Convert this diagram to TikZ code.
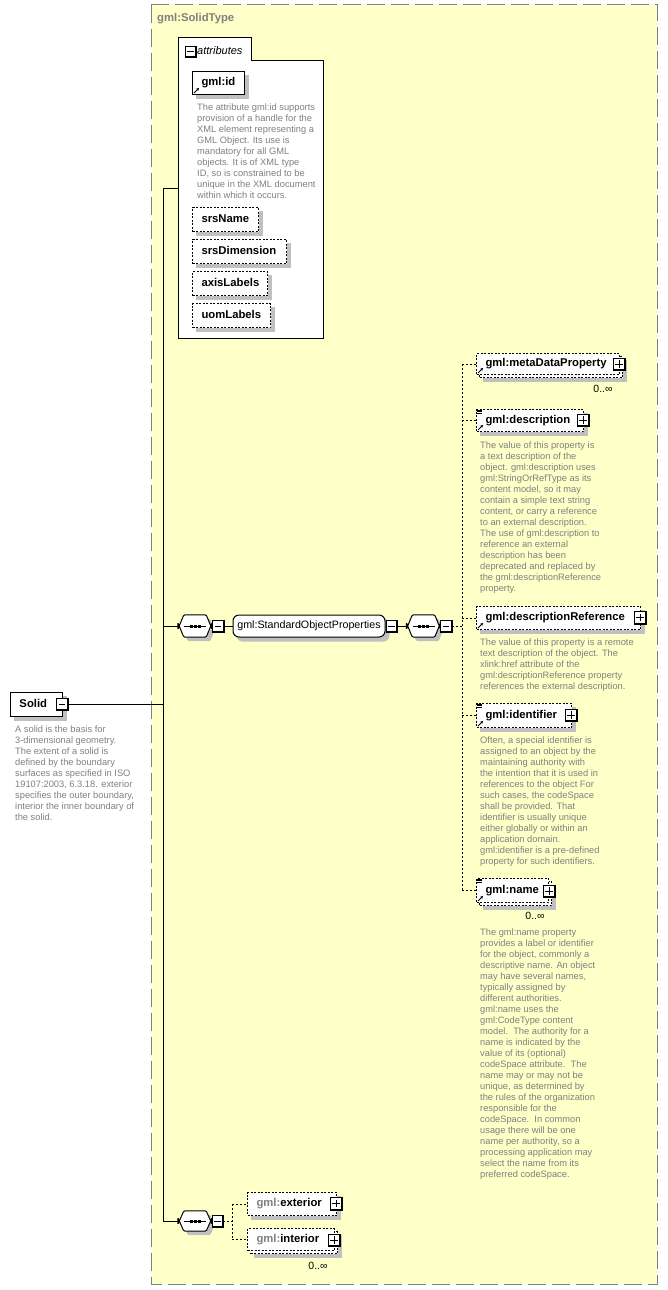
\documentclass[tikz,border=0pt]{standalone}
\usepackage{fontspec}
\setmainfont{Liberation Sans}
\usetikzlibrary{arrows.meta,calc}
\definecolor{bgyellow}{RGB}{255,255,200}
\definecolor{framegray}{RGB}{128,128,128}
\definecolor{shadowgray}{RGB}{192,192,192}
\definecolor{doctext}{RGB}{128,128,128}
\newcommand\myLbl{\fontsize{11.3}{13}\selectfont\bfseries}
\newcommand\myReg{\fontsize{10.7}{13}\selectfont}
\newcommand\myDoc{\fontsize{9.3}{11}\selectfont}
\newcommand\myMult{\fontsize{10.5}{12}\selectfont}
\newcommand\myOctPath[1]{([yshift=-3.5pt]#1.west) -- ([xshift=6pt]#1.north west) -- ([xshift=-6pt]#1.north east) -- ([yshift=-3.5pt]#1.east) -- ([yshift=3.5pt]#1.east) -- ([xshift=-6pt]#1.south east) -- ([xshift=6pt]#1.south west) -- ([yshift=3.5pt]#1.west) -- cycle}
\pgfdeclarelayer{bg}
\pgfdeclarelayer{shadowlayer}
\pgfsetlayers{bg,shadowlayer,main}
\tikzset{
  ebase/.style={draw=black, line width=1pt, fill=white, inner xsep=9pt, inner ysep=0pt,
    align=left, anchor=north west, font=\myLbl, text height=8pt, text depth=2.5pt},
  elem/.style={ebase},
  optelem/.style={ebase, dash pattern=on 2pt off 1.5pt},
  optfront/.style={ebase, dash pattern=on 2pt off 1.5pt},
  backbox/.style={draw=black, line width=1pt, fill=white, dash pattern=on 2pt off 1.5pt,
    anchor=north west, inner sep=0pt},
  doc/.style={font=\myDoc, text=doctext, align=left, anchor=north west, inner sep=0pt},
  mult/.style={font=\myMult, text=black, inner sep=0pt},
  minusbtn/.style={draw=black, line width=1pt, fill=white, minimum size=10.5pt, inner sep=0pt,
    path picture={\draw[line width=1pt] ([xshift=2pt]path picture bounding box.west) -- ([xshift=-2pt]path picture bounding box.east);}},
  plusbtn/.style={draw=black, line width=1pt, fill=white, minimum size=11.5pt, inner sep=0pt,
    path picture={\draw[line width=1pt] ([xshift=2pt]path picture bounding box.west) -- ([xshift=-2pt]path picture bounding box.east)
      ([yshift=-2pt]path picture bounding box.north) -- ([yshift=2pt]path picture bounding box.south);}},
  compnode/.style={rectangle, minimum width=34pt, minimum height=22pt, inner sep=0pt, draw=none},
  compdraw/.style={draw=black, line width=1pt, fill=white, rounded corners=1.2pt},
  compshadow/.style={fill=shadowgray, rounded corners=1.2pt, transform canvas={shift={(4pt,-4pt)}}},
  sopbox/.style={rectangle, rounded corners=6pt, draw=black, line width=1pt, fill=white,
    minimum width=152pt, minimum height=22pt, inner sep=0pt, font=\myReg},
  conn/.style={draw=black, line width=1pt},
  dconn/.style={conn, dash pattern=on 2pt off 2pt},
  refarrow/.style={draw=black, line width=0.9pt, -{Stealth[length=2.8pt,width=3pt]}},
  docmark/.style={draw=black, line width=0.6pt},
}
\begin{document}
\begin{tikzpicture}[x=1pt,y=-1pt]
\useasboundingbox (0,0) rectangle (668,1290);

% frame and attributes container (background)
\begin{pgfonlayer}{bg}
\draw[framegray, line width=1pt, dash pattern=on 18pt off 6pt, fill=bgyellow] (151,5) rectangle (657,1284);
\draw[black, line width=1pt, fill=white] (178,38) -- (251,38) -- (251,61) -- (323,61) -- (323,338) -- (178,338) -- cycle;
\end{pgfonlayer}
\node[minusbtn] (abtn) at (190.5,51.5) {};
\node[font=\fontsize{11}{13}\selectfont\itshape, anchor=west, inner sep=0pt] (attrl) at (197,50.5) {attributes};

% header
\node[font=\myLbl, text=framegray, anchor=west, inner sep=0pt] (hdr) at (157,19) {gml:SolidType};

% attributes
\node[elem, text width=34pt, minimum height=23pt] (gid) at (192,71) {gml:id};
\node[doc] (giddoc) at (197,103.2) {The attribute gml:id supports\\provision of a handle for the\\XML element representing a\\GML Object. Its use is\\mandatory for all GML\\objects. It is of XML type\\ID, so is constrained to be\\unique in the XML document\\within which it occurs.};
\node[optelem, text width=48pt, minimum height=24pt] (srsn) at (192,207) {srsName};
\node[optelem, text width=76pt, minimum height=24pt] (srsd) at (192,239) {srsDimension};
\node[optelem, text width=57pt, minimum height=24pt] (axl) at (192,271) {axisLabels};
\node[optelem, text width=60pt, minimum height=24pt] (uoml) at (192,303) {uomLabels};

% Solid
\node[elem, text width=34pt, minimum height=24pt] (solid) at (10,692) {Solid};
\node[minusbtn] (sbtn) at (62,704) {};
\node[doc] (soliddoc) at (15,725.2) {A solid is the basis for\\3-dimensional geometry.\\The extent of a solid is\\defined by the boundary\\surfaces as specified in ISO\\19107:2003, 6.3.18. exterior\\specifies the outer boundary,\\interior the inner boundary of\\the solid.};

% sequence 1
\node[compnode] (c1) at (195,626) {};
\node[sopbox] (sop) at (309,626) {gml:StandardObjectProperties};
\node[minusbtn] (sopb) at (391.5,626) {};
\node[compnode] (c2) at (423.5,626) {};

% children of StandardObjectProperties
\node[backbox, minimum width=143pt, minimum height=21pt] (mdpb) at (479,356) {};
\node[optfront, text width=125pt, minimum height=21pt] (mdp) at (476,353) {gml:metaDataProperty};
\node[plusbtn] (mdpp) at (619,364) {};
\node[mult] (mdpm) at (603,389) {0..∞};

\node[optelem, text width=89pt, minimum height=22pt] (desc) at (476,409) {gml:description};
\node[plusbtn] (descp) at (583,420) {};
\node[doc] (descdoc) at (480,441.2) {The value of this property is\\a text description of the\\object. gml:description uses\\gml:StringOrRefType as its\\content model, so it may\\contain a simple text string\\content, or carry a reference\\to an external description.\\The use of gml:description to\\reference an external\\description has been\\deprecated and replaced by\\the gml:descriptionReference\\property.};

\node[optelem, text width=146pt, minimum height=23pt] (dref) at (476,606) {gml:descriptionReference};
\node[plusbtn] (drefp) at (640,617.5) {};
\node[doc] (drefdoc) at (480,638.2) {The value of this property is a remote\\text description of the object. The\\xlink:href attribute of the\\gml:descriptionReference property\\references the external description.};

\node[optelem, text width=77pt, minimum height=24pt] (ident) at (476,703) {gml:identifier};
\node[plusbtn] (identp) at (571,715) {};
\node[doc] (identdoc) at (480,736.2) {Often, a special identifier is\\assigned to an object by the\\maintaining authority with\\the intention that it is used in\\references to the object For\\such cases, the codeSpace\\shall be provided. That\\identifier is usually unique\\either globally or within an\\application domain.\\gml:identifier is a pre-defined\\property for such identifiers.};

\node[backbox, minimum width=72pt, minimum height=24pt] (nameb) at (479,881) {};
\node[optfront, text width=54pt, minimum height=24pt] (name) at (476,878) {gml:name};
\node[plusbtn] (namep) at (549,891) {};
\node[mult] (namem) at (535,916) {0..∞};
\node[doc] (namedoc) at (480,928.2) {The gml:name property\\provides a label or identifier\\for the object, commonly a\\descriptive name. An object\\may have several names,\\typically assigned by\\different authorities.\\gml:name uses the\\gml:CodeType content\\model.\ \ The authority for a\\name is indicated by the\\value of its (optional)\\codeSpace attribute.\ \ The\\name may or may not be\\unique, as determined by\\the rules of the organization\\responsible for the\\codeSpace.\ \ In common\\usage there will be one\\name per authority, so a\\processing application may\\select the name from its\\preferred codeSpace.};

% sequence 2 (exterior / interior)
\node[compnode, minimum height=20pt] (c3) at (195,1221) {};
\node[optelem, text width=71pt, minimum height=23pt] (ext) at (247,1192) {\textcolor{framegray}{gml:}exterior};
\node[plusbtn] (extp) at (336,1203.5) {};
\node[backbox, minimum width=87pt, minimum height=22pt] (intb) at (250,1231) {};
\node[optfront, text width=69pt, minimum height=22pt] (int) at (247,1228) {\textcolor{framegray}{gml:}interior};
\node[plusbtn] (intp) at (334,1240) {};
\node[mult] (intm) at (318,1266) {0..∞};

% compositor outlines and dots
\foreach \c in {c1,c2,c3} {
  \draw[compdraw] \myOctPath{\c};
  \draw[line width=1pt] ([xshift=-11pt]\c.center) -- ([xshift=11pt]\c.center);
  \foreach \d in {-4,0,4} \fill ($(\c.center)+(\d,0)+(-1.5,-1.5)$) rectangle +(3,3);
}
\node[minusbtn] (c1b) at (218,626) {};
\node[minusbtn] (c2b) at (446,626) {};
\node[minusbtn] (c3b) at (217.5,1221) {};

% button shading
\foreach \b in {abtn,sbtn,c1b,sopb,c2b,c3b,mdpp,descp,drefp,identp,namep,extp,intp}
  \draw[line width=1.5pt] (\b.north east) -- (\b.south east) -- (\b.south west);

% reference arrows
\foreach \e in {gid,mdp,desc,dref,ident,name}
  \draw[refarrow] ([xshift=2pt,yshift=2pt]\e.south west) -- ++(5,-5);
% documentation marks
\foreach \e in {desc,ident,name}
  \foreach \k in {1,2.6,4.2}
    \draw[docmark] ([xshift=1pt,yshift=-\k pt]\e.north west) -- ++(5,0);

% connectors and shadows (below the boxes)
\begin{pgfonlayer}{shadowlayer}
\coordinate (trunk) at (163,188);
\coordinate (attrw) at (178,188);
\coordinate (dtrunk) at (462,364);
\coordinate (btrunk) at (232,1203.5);
\draw[conn] (attrw) -- (trunk) -- (trunk |- c3.west) -- (c3.west);
\draw[conn] (sbtn.east) -- (sbtn.east -| trunk);
\draw[conn] (c1.west -| trunk) -- (c1.west);
\draw[conn] (c1b.east) -- (sop.west);
\draw[conn] (sopb.east) -- (c2.west);
\draw[dconn] (c2b.east) -- (c2b.east -| dtrunk);
\draw[dconn] (mdp.west -| dtrunk) -- (name.west -| dtrunk);
\foreach \e in {mdp,desc,dref,ident,name}
  \draw[dconn] (\e.west -| dtrunk) -- (\e.west);
\draw[dconn] (c3b.east) -- (c3b.east -| btrunk);
\draw[dconn] (ext.west -| btrunk) -- (int.west -| btrunk);
\draw[dconn] (ext.west -| btrunk) -- (ext.west);
\draw[dconn] (int.west -| btrunk) -- (int.west);
\foreach \e in {gid,srsn,srsd,axl,uoml,solid,mdpb,desc,dref,ident,nameb,ext,intb}
  \fill[shadowgray] ($(\e.north west)+(4,4)$) rectangle ($(\e.south east)+(4,4)$);
\fill[shadowgray, rounded corners=6pt] ($(sop.north west)+(4,4)$) rectangle ($(sop.south east)+(4,4)$);
\foreach \c in {c1,c2,c3}
  \fill[compshadow] \myOctPath{\c};
\end{pgfonlayer}
\end{tikzpicture}
\end{document}
